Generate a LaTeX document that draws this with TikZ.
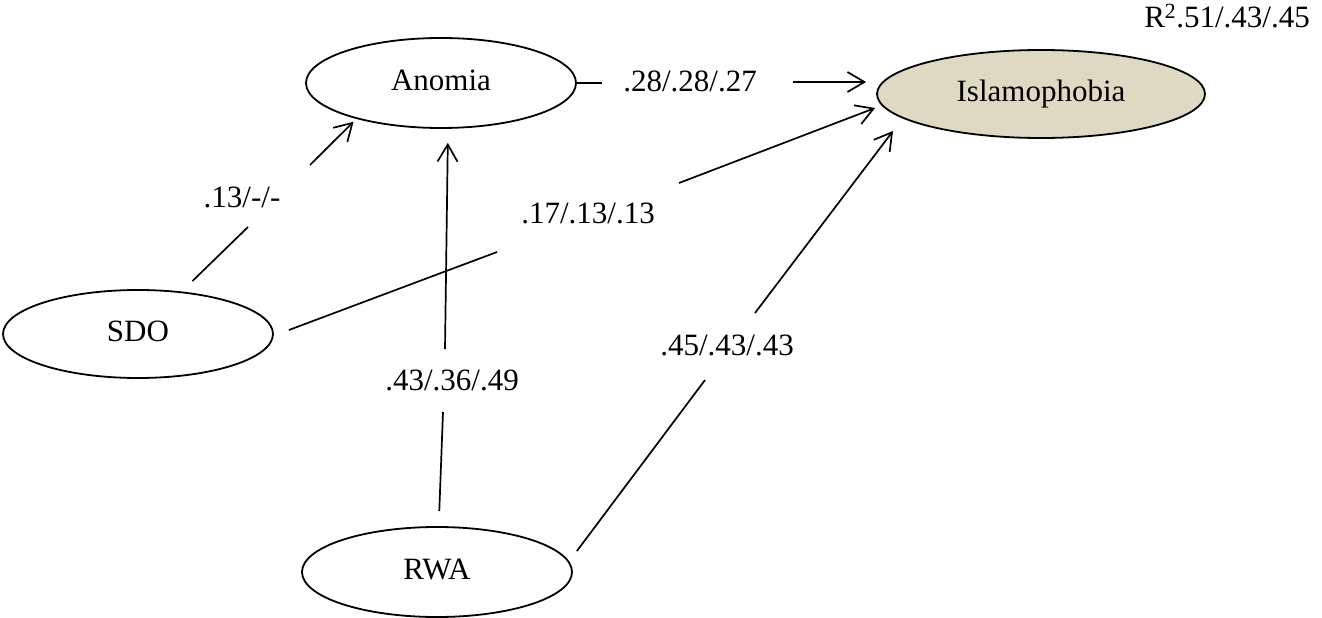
\documentclass[tikz,border=0pt]{standalone}
\usepackage{fontspec}
\setmainfont{Liberation Serif}
\usetikzlibrary{shapes.geometric,arrows.meta}
\definecolor{outfill}{HTML}{DDD9C3}
\begin{document}
\begin{tikzpicture}[x=1pt,y=1pt,
  font=\fontsize{31}{37}\selectfont,
  construct/.style={ellipse,draw,line width=1.8pt,inner sep=0pt,
    text height=21pt,text depth=7pt,
    minimum width=270pt,minimum height=90pt},
  path/.style={line width=1.7pt},
  effect/.style={path,-{Straight Barb[length=17pt,width=20pt,line width=1.7pt]}},
  coef/.style={anchor=base,inner sep=0pt}]
\useasboundingbox (0,0) rectangle (1322,-618);

% latent constructs
\node[construct] (An) at (441,-83) {Anomia};
\node[construct,fill=outfill,minimum width=328pt,minimum height=88pt] (Is) at (1041,-94) {Islamophobia};
\node[construct,minimum height=88pt] (SDO) at (138,-334) {SDO};
\node[construct] (RWA) at (437,-572) {RWA};

% explained variance
\node[anchor=base east,inner sep=0pt] (r2) at (1310,-28) {R\textsuperscript{2}.51/.43/.45};

% path coefficients
\node[coef] (l13) at (242,-207) {.13/-/-};
\node[coef] (l43) at (452,-390) {.43/.36/.49};
\node[coef] (l17) at (588,-223) {.17/.13/.13};
\node[coef] (l45) at (727,-355) {.45/.43/.43};
\node[coef] (l28) at (690,-92) {.28/.28/.27};

% break points of the paths around their coefficients
\coordinate (c1a) at (248,-227); \coordinate (c1b) at (310,-165);
\coordinate (c2a) at (443,-412); \coordinate (c2b) at (445,-349);
\coordinate (c3a) at (705,-380); \coordinate (c3b) at (755,-313);
\coordinate (c4a) at (497,-252); \coordinate (c4b) at (679,-183);
\coordinate (c5a) at (602,-83);  \coordinate (c5b) at (793,-82);

% SDO -> Anomia
\draw[path,shorten <=15pt] (SDO) -- (c1a);
\draw[effect,shorten >=4pt] (c1b) -- (An.203);

% RWA -> Anomia
\draw[path,shorten <=15pt] (RWA) -- (c2a);
\draw[effect,shorten >=14pt] (c2b) -- ([xshift=7pt]An.south);

% RWA -> Islamophobia
\draw[path] ([xshift=4pt,yshift=21pt]RWA.east) -- (c3a);
\draw[effect] (c3b) -- ([xshift=-148pt,yshift=-37pt]Is.center);

% SDO -> Islamophobia
\draw[path] ([xshift=15pt,yshift=4pt]SDO.east) -- (c4a);
\draw[effect] (c4b) -- ([xshift=-1pt,yshift=-14pt]Is.west);

% Anomia -> Islamophobia
\draw[path] (An.east) -- (c5a);
\draw[effect,shorten >=10pt] (c5b) -- (c5b -| Is.west);
\end{tikzpicture}
\end{document}
